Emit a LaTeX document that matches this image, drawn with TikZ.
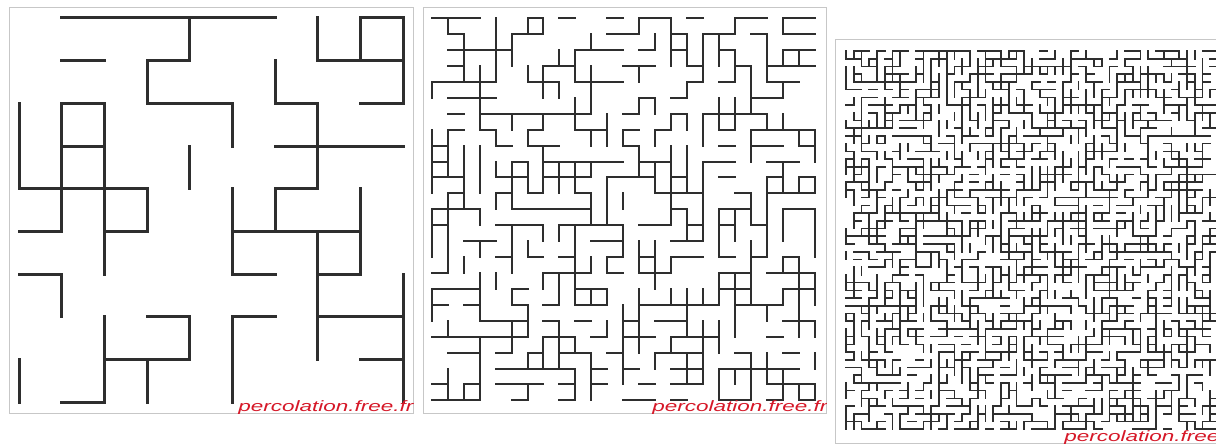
\documentclass[tikz,border=0pt]{standalone}
\usepackage{fontspec}
\setsansfont{Liberation Sans}
\definecolor{wred}{RGB}{214,24,40}
\tikzset{
  frm/.style   ={draw=black!22,line width=1pt},
  bondA/.style ={draw=black!82,line width=3pt,line cap=rect},
  bondB/.style ={draw=black!82,line width=2pt,line cap=rect},
  bondC/.style ={draw=black!82,line width=1.6pt,line cap=rect},
  wmark/.style ={anchor=base west,inner sep=0pt,text=wred,
                 font=\sffamily\itshape\fontsize{15}{15}\selectfont,xscale=1.5},
}

\begin{document}
\begin{tikzpicture}[x=1pt, y=-1pt]

\fill[white] (0,0) rectangle (1216,446);
\useasboundingbox (0,0) rectangle (1216,446);

%% ---------------- small lattice (10 x 10) ----------------
\draw[frm] (9,8) rectangle (413,413);
\begin{scope}
  \clip (9,8) rectangle (413,413);
  \begin{scope}[shift={(19,18)}, x=42.67pt, y=-42.67pt]
    %% horizontal bonds: (i,j) -- (i+1,j)
    \foreach \i/\j in {1/0,2/0,3/0,4/0,5/0,8/0,
                       1/1,3/1,7/1,8/1,
                       1/2,3/2,4/2,6/2,8/2,
                       1/3,6/3,7/3,8/3,
                       0/4,1/4,2/4,6/4,
                       0/5,2/5,5/5,6/5,7/5,
                       0/6,5/6,7/6,
                       3/7,5/7,7/7,8/7,
                       2/8,3/8,8/8,
                       1/9}
      \draw[bondA] (\i,\j) -- ++(1,0);
    %% vertical bonds: (i,j) -- (i,j+1)
    \foreach \i/\j in {0/2,0/3,0/8,
                       1/2,1/3,1/4,1/6,
                       2/2,2/3,2/4,2/5,2/7,2/8,
                       3/1,3/4,3/8,
                       4/0,4/3,4/7,
                       5/2,5/4,5/5,5/7,5/8,
                       6/1,6/4,
                       7/0,7/2,7/3,7/5,7/6,7/7,
                       8/0,8/4,8/5,
                       9/0,9/1,9/6,9/7,9/8}
      \draw[bondA] (\i,\j) -- ++(0,1);
  \end{scope}
  \node[wmark] (wm1) at (238,411) {percolation.free.fr};
\end{scope}

%% ---------------- medium lattice (25 x 25) ----------------
\pgfmathsetseed{4711}
\draw[frm] (423,8) rectangle (826,413);
\begin{scope}
  \clip (423,8) rectangle (826,413);
  \begin{scope}[shift={(431.7,18.3)}, x=15.97pt, y=-15.92pt]
    \foreach \i in {0,...,24}{
      \foreach \j in {0,...,23}{
        \pgfmathsetmacro\rr{rnd}
        \ifdim\rr pt<0.5pt \draw[bondB] (\i,\j) -- ++(0,1); \fi
        \pgfmathsetmacro\rr{rnd}
        \ifdim\rr pt<0.5pt \draw[bondB] (\j,\i) -- ++(1,0); \fi
      }
    }
  \end{scope}
  \node[wmark] (wm2) at (652,411) {percolation.free.fr};
\end{scope}

%% ---------------- large lattice (50 x 50) ----------------
\pgfmathsetseed{2024}
\draw[frm] (835,40) rectangle (1240,443);
\begin{scope}
  \clip (835,40) rectangle (1216,443);
  \begin{scope}[shift={(846,51)}, x=7.75pt, y=-7.72pt]
    \foreach \i in {0,...,49}{
      \foreach \j in {0,...,48}{
        \pgfmathsetmacro\rr{rnd}
        \ifdim\rr pt<0.5pt \draw[bondC] (\i,\j) -- ++(0,1); \fi
        \pgfmathsetmacro\rr{rnd}
        \ifdim\rr pt<0.5pt \draw[bondC] (\j,\i) -- ++(1,0); \fi
      }
    }
  \end{scope}
  \node[wmark] (wm3) at (1064,441) {percolation.free.fr};
\end{scope}

\end{tikzpicture}
\end{document}
